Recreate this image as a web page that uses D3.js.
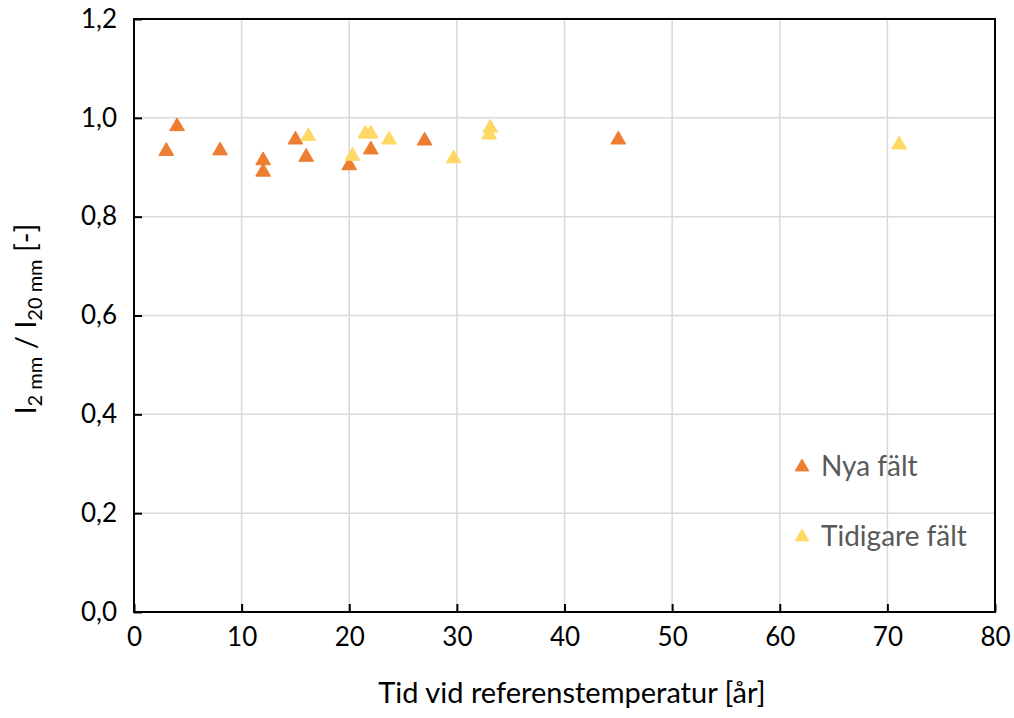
<!DOCTYPE html>
<html><head><meta charset="utf-8">
<script src="https://cdn.jsdelivr.net/npm/d3@7"></script>
<style>body{margin:0;background:#fff;} text{font-family:Lato,"Open Sans",sans-serif;}</style>
</head><body>
<svg id="c" width="1014" height="718"></svg>
<script>
const nyaX = [3, 4, 8, 12, 12, 15, 16, 20, 22, 27, 45];
const nyaY = [0.937, 0.987, 0.938, 0.918, 0.895, 0.96, 0.925, 0.908, 0.94, 0.958, 0.96];
const tidX = [16.2, 20.3, 21.5, 22, 23.7, 29.7, 33.1, 33, 71.1];
const tidY = [0.967, 0.927, 0.972, 0.972, 0.96, 0.922, 0.984, 0.97, 0.95];
const xTicks = [0,10,20,30,40,50,60,70,80];
const yTicks = [0,0.2,0.4,0.6,0.8,1.0,1.2];
const seriesNames = ["Nya fält", "Tidigare fält"];
const colors = ["#ED7D31", "#FFD966"];

const svg = d3.select("#c");
const L=134, R=995, T=19, B=612;
const x = d3.scaleLinear().domain([0,80]).range([L,R]);
const y = d3.scaleLinear().domain([0,1.2]).range([B,T]);

// grid
svg.append("g").selectAll("line").data(xTicks.slice(1,-1)).join("line")
  .attr("x1",d=>x(d)).attr("x2",d=>x(d)).attr("y1",T).attr("y2",B)
  .attr("stroke","#d9d9d9").attr("stroke-width",1.5);
svg.append("g").selectAll("line").data(yTicks.slice(1,-1)).join("line")
  .attr("x1",L).attr("x2",R).attr("y1",d=>y(d)).attr("y2",d=>y(d))
  .attr("stroke","#d9d9d9").attr("stroke-width",1.5);

// axes
const xa = svg.append("g").attr("transform",`translate(0,${B})`)
  .call(d3.axisBottom(x).tickValues(xTicks).tickSizeInner(-8).tickSizeOuter(0).tickPadding(16).tickFormat(d3.format("d")));
const ya = svg.append("g").attr("transform",`translate(${L},0)`)
  .call(d3.axisLeft(y).tickValues(yTicks).tickSizeInner(-8).tickSizeOuter(0).tickPadding(17).tickFormat(d=>d3.format(".1f")(d).replace(".",",")));
[xa,ya].forEach(a=>{
  a.selectAll("text").attr("font-size",26).attr("fill","#000").attr("font-family","Lato, sans-serif");
  a.selectAll("line").attr("stroke","#000").attr("stroke-width",2);
  a.select(".domain").remove();
});
xa.selectAll("text").attr("dy","0.71em");
// frame
svg.append("rect").attr("x",L).attr("y",T).attr("width",R-L).attr("height",B-T)
  .attr("fill","none").attr("stroke","#000").attr("stroke-width",2);

// points
const triSize = 95;
const triOff = Math.sqrt(triSize/(Math.sqrt(3)*3))/2; // shift so bounding box is centred
const tri = d3.symbol().type(d3.symbolTriangle).size(triSize);
const series = [
  {name:seriesNames[0], xs:nyaX, ys:nyaY, color:colors[0]},
  {name:seriesNames[1], xs:tidX, ys:tidY, color:colors[1]}
];
series.forEach(s=>{
  svg.append("g").selectAll("path").data(s.xs.map((v,i)=>[v,s.ys[i]])).join("path")
    .attr("d",tri).attr("transform",d=>`translate(${x(d[0])},${y(d[1])+triOff})`)
    .attr("fill",s.color).attr("stroke",s.color).attr("stroke-width",1).attr("stroke-linejoin","round");
});

// legend
series.forEach((s,i)=>{
  const ly = 466 + i*70;
  svg.append("path").attr("d",d3.symbol().type(d3.symbolTriangle).size(80))
    .attr("transform",`translate(802,${ly+1})`).attr("fill",s.color).attr("stroke",s.color).attr("stroke-linejoin","round");
  svg.append("text").attr("x",821).attr("y",ly).attr("dy","0.36em")
    .attr("font-size",28).attr("fill","#595959").text(s.name);
});

// axis titles
svg.append("text").attr("x",572).attr("y",703).attr("text-anchor","middle")
  .attr("font-size",29).attr("fill","#000").text("Tid vid referenstemperatur [år]");
const yt = svg.append("text").attr("transform","translate(36,319) rotate(-90)").attr("text-anchor","middle")
  .attr("font-size",29).attr("fill","#000");
yt.append("tspan").text("I");
yt.append("tspan").attr("font-size",20).attr("dy",6).text("2 mm");
yt.append("tspan").attr("dy",-6).text(" / I");
yt.append("tspan").attr("font-size",20).attr("dy",6).text("20 mm");
yt.append("tspan").attr("dy",-6).text(" [-]");
</script>
</body></html>
